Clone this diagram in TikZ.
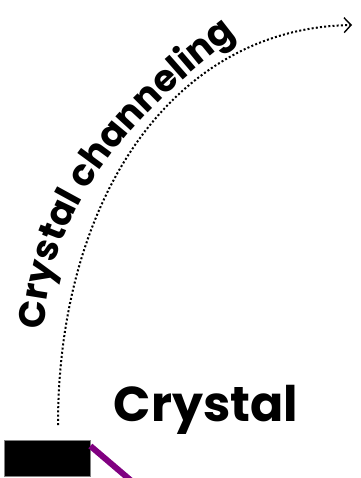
\documentclass[tikz,border=0pt]{standalone}
\usepackage{fontspec}
\setmainfont{Poppins}
\usepackage{xcolor}
\usetikzlibrary{arrows.meta,decorations.text}
\definecolor{beampurple}{RGB}{128,0,128}

\begin{document}
\begin{tikzpicture}[x=1pt,y=-1pt,>={Straight Barb[length=7pt,width=15pt,line width=1.4pt]}]
  \useasboundingbox (0,0) rectangle (360,478);
  % crystal block and outgoing beam
  \node[fill=black,draw=gray,minimum width=86pt,minimum height=36pt,inner sep=0pt,anchor=north west] (block) at (4,440) {};
  \coordinate (beamend) at (135,484);
  \draw[beampurple,line width=6pt] ([yshift=-6pt]block.north east) -- (beamend);
  % channeling trajectory
  \coordinate (start) at (58,425);
  \coordinate (finish) at (352,25);
  \draw[->,line width=2pt,dash pattern=on 2pt off 2.2pt] (start) .. controls (58,200) and (172,28) .. (finish);
  \path[decorate,decoration={text along path,text align=left,
      text={|\fontsize{37}{37}\selectfont\bfseries|Crystal channeling}}]
    (45,330) .. controls (48,180) and (180,78) .. (252,24) -- (320,-25);
  \node[font=\fontsize{49}{49}\selectfont\bfseries] (label) at (206,410) {Crystal};
\end{tikzpicture}
\end{document}
